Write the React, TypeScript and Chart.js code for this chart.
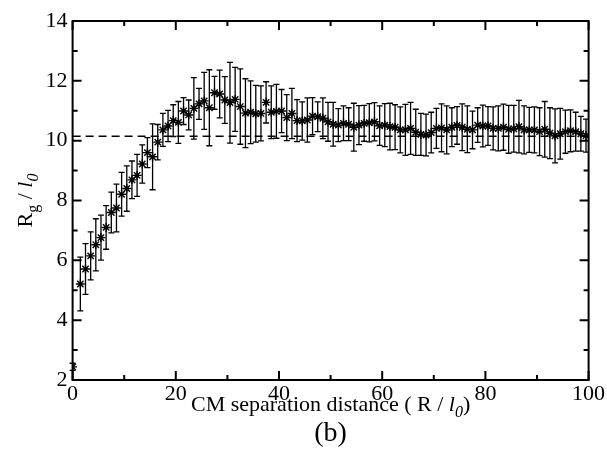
import React, { useEffect, useRef } from "react";
import { Chart, registerables } from "chart.js";

Chart.register(...registerables);

const separation = [
  0, 1.5, 2.5, 3.5, 4.5, 5.5, 6.5, 7.5, 8.5, 9.5,
  10.5, 11.5, 12.5, 13.5, 14.5, 15.5, 16.5, 17.5, 18.5, 19.5,
  20.5, 21.5, 22.5, 23.5, 24.5, 25.5, 26.5, 27.5, 28.5, 29.5,
  30.5, 31.5, 32.5, 33.5, 34.5, 35.5, 36.5, 37.5, 38.5, 39.5,
  40.5, 41.5, 42.5, 43.5, 44.5, 45.5, 46.5, 47.5, 48.5, 49.5,
  50.5, 51.5, 52.5, 53.5, 54.5, 55.5, 56.5, 57.5, 58.5, 59.5,
  60.5, 61.5, 62.5, 63.5, 64.5, 65.5, 66.5, 67.5, 68.5, 69.5,
  70.5, 71.5, 72.5, 73.5, 74.5, 75.5, 76.5, 77.5, 78.5, 79.5,
  80.5, 81.5, 82.5, 83.5, 84.5, 85.5, 86.5, 87.5, 88.5, 89.5,
  90.5, 91.5, 92.5, 93.5, 94.5, 95.5, 96.5, 97.5, 98.5, 99.5,
];

const rg = [
  2.44, 5.21, 5.71, 6.15, 6.52, 6.76, 7.1, 7.6, 7.75, 8.21,
  8.4, 8.69, 8.84, 9.22, 9.6, 9.46, 9.95, 10.36, 10.49, 10.67,
  10.61, 10.99, 10.86, 11.08, 11.23, 11.33, 11.1, 11.6, 11.56, 11.36,
  11.27, 11.38, 11.14, 10.92, 10.95, 10.9, 10.91, 11.28, 10.95, 10.98,
  10.99, 10.77, 10.91, 10.67, 10.66, 10.69, 10.82, 10.8, 10.75, 10.63,
  10.55, 10.52, 10.58, 10.55, 10.45, 10.52, 10.58, 10.6, 10.63, 10.5,
  10.52, 10.47, 10.45, 10.36, 10.36, 10.41, 10.28, 10.21, 10.19, 10.27,
  10.41, 10.43, 10.36, 10.45, 10.51, 10.45, 10.38, 10.36, 10.52, 10.49,
  10.49, 10.41, 10.41, 10.45, 10.38, 10.4, 10.47, 10.36, 10.36, 10.36,
  10.3, 10.38, 10.25, 10.16, 10.23, 10.3, 10.33, 10.3, 10.23, 10.17,
];

const rgError = [
  0.12, 0.9, 0.85, 0.8, 0.87, 0.75, 0.73, 0.68, 0.8, 0.73,
  0.76, 0.63, 0.7, 0.64, 0.5, 1.1, 0.59, 0.55, 0.52, 0.53,
  0.7, 0.45, 0.5, 1.03, 0.52, 0.95, 1.27, 0.55, 0.8, 0.78,
  1.35, 1.07, 1.26, 1.15, 1.05, 0.95, 0.92, 0.69, 0.88, 0.9,
  0.72, 0.77, 0.84, 0.7, 0.64, 0.74, 0.62, 0.5, 0.68, 0.65,
  0.73, 0.55, 0.58, 0.55, 0.8, 0.65, 0.6, 0.64, 0.64, 0.66,
  0.72, 0.78, 0.75, 0.77, 0.85, 0.87, 0.77, 0.7, 0.7, 0.68,
  0.67, 0.8, 0.8, 0.65, 0.63, 0.78, 0.78, 0.63, 0.58, 0.7,
  0.65, 0.72, 0.75, 0.77, 0.8, 0.78, 0.88, 0.8, 0.75, 0.77,
  0.8, 0.93, 0.85, 0.9, 0.85, 0.72, 0.7, 0.65, 0.58, 0.55,
];

const plateau = 10.15;
const xRange = [0, 100];
const yRange = [2, 14];
const xStep = 20;
const yStep = 2;

const SERIF = "'Liberation Serif', 'Times New Roman', serif";

type Seg = { t: string; italic?: boolean; sub?: boolean };

function drawRich(ctx: CanvasRenderingContext2D, segs: Seg[], cx: number, baseY: number, size: number) {
  const fontFor = (s: Seg) => `${s.italic ? "italic " : ""}${s.sub ? Math.round(size * 0.72) : size}px ${SERIF}`;
  let total = 0;
  const widths = segs.map((s) => {
    ctx.font = fontFor(s);
    const w = ctx.measureText(s.t).width;
    total += w;
    return w;
  });
  let x = cx - total / 2;
  ctx.textAlign = "left";
  ctx.textBaseline = "alphabetic";
  segs.forEach((s, i) => {
    ctx.font = fontFor(s);
    ctx.fillText(s.t, x, baseY + (s.sub ? size * 0.28 : 0));
    x += widths[i];
  });
}

const errorBarPlugin = {
  id: "errorBars",
  beforeDatasetsDraw(chart: any) {
    const meta = chart.getDatasetMeta(1);
    const ys = chart.scales.y;
    const ctx = chart.ctx;
    ctx.save();
    ctx.strokeStyle = "#000";
    ctx.lineWidth = 1.3;
    meta.data.forEach((pt: any, i: number) => {
      const top = ys.getPixelForValue(rg[i] + rgError[i]);
      const bot = ys.getPixelForValue(rg[i] - rgError[i]);
      const x = pt.x;
      ctx.beginPath();
      ctx.moveTo(x, top);
      ctx.lineTo(x, bot);
      ctx.moveTo(x - 3, top);
      ctx.lineTo(x + 3, top);
      ctx.moveTo(x - 3, bot);
      ctx.lineTo(x + 3, bot);
      ctx.stroke();
    });
    ctx.restore();
  },
};

const framePlugin = {
  id: "frameTicks",
  afterDraw(chart: any) {
    const { ctx, chartArea: a, scales } = chart;
    ctx.save();
    ctx.strokeStyle = "#000";
    ctx.lineWidth = 2;
    ctx.strokeRect(a.left, a.top, a.right - a.left, a.bottom - a.top);
    ctx.beginPath();
    for (let v = xRange[0]; v <= xRange[1]; v += xStep / 2) {
      const px = scales.x.getPixelForValue(v);
      const len = v % xStep === 0 ? 9 : 5;
      ctx.moveTo(px, a.bottom);
      ctx.lineTo(px, a.bottom - len);
      ctx.moveTo(px, a.top);
      ctx.lineTo(px, a.top + len);
    }
    for (let v = yRange[0]; v <= yRange[1]; v += yStep / 2) {
      const py = scales.y.getPixelForValue(v);
      const len = v % yStep === 0 ? 9 : 5;
      ctx.moveTo(a.left, py);
      ctx.lineTo(a.left + len, py);
      ctx.moveTo(a.right, py);
      ctx.lineTo(a.right - len, py);
    }
    ctx.stroke();

    ctx.fillStyle = "#000";
    const cx = (a.left + a.right) / 2;
    drawRich(
      ctx,
      [{ t: "CM separation distance ( R / " }, { t: "l", italic: true }, { t: "0", italic: true, sub: true }, { t: ")" }],
      cx,
      a.bottom + 31,
      22
    );
    ctx.font = `28px ${SERIF}`;
    ctx.textAlign = "center";
    ctx.textBaseline = "alphabetic";
    ctx.fillText("(b)", cx, a.bottom + 61);

    const cy = (a.top + a.bottom) / 2;
    ctx.save();
    ctx.translate(32, cy);
    ctx.rotate(-Math.PI / 2);
    drawRich(
      ctx,
      [{ t: "R" }, { t: "g", sub: true }, { t: " / " }, { t: "l", italic: true }, { t: "0", italic: true, sub: true }],
      0,
      0,
      22
    );
    ctx.restore();
    ctx.restore();
  },
};

export default function App() {
  const ref = useRef<HTMLCanvasElement | null>(null);
  useEffect(() => {
    if (!ref.current) return;
    const points = separation.map((x, i) => ({ x, y: rg[i] }));
    const chart = new Chart(ref.current, {
      type: "scatter",
      data: {
        datasets: [
          {
            type: "line",
            data: [
              { x: xRange[0], y: plateau },
              { x: xRange[1], y: plateau },
            ],
            borderColor: "#000",
            borderWidth: 1.6,
            borderDash: [8, 5],
            pointRadius: 0,
            fill: false,
          } as any,
          {
            data: points,
            pointStyle: "star",
            pointRadius: 4.5,
            borderWidth: 1.4,
            borderColor: "#000",
            backgroundColor: "#000",
            showLine: false,
          },
        ],
      },
      options: {
        responsive: false,
        animation: false,
        events: [],
        layout: { padding: { top: 21, right: 18.4, left: 0, bottom: 0 } },
        plugins: { legend: { display: false }, tooltip: { enabled: false }, title: { display: false } },
        scales: {
          x: {
            type: "linear",
            min: xRange[0],
            max: xRange[1],
            grid: { display: false, drawTicks: false },
            border: { display: false },
            ticks: {
              stepSize: xStep,
              autoSkip: false,
              maxRotation: 0,
              padding: 1,
              color: "#000",
              font: { family: SERIF, size: 22 },
            },
            afterFit: (s: any) => {
              s.height = 78;
            },
          },
          y: {
            type: "linear",
            min: yRange[0],
            max: yRange[1],
            grid: { display: false, drawTicks: false },
            border: { display: false },
            ticks: {
              stepSize: yStep,
              padding: 5,
              color: "#000",
              font: { family: SERIF, size: 22 },
            },
            afterFit: (s: any) => {
              s.width = 72.6;
            },
          },
        },
      },
      plugins: [errorBarPlugin, framePlugin],
    });
    return () => chart.destroy();
  }, []);
  return (
    <div style={{ position: "fixed", left: 0, top: 0, width: 607, height: 458, background: "#fff" }}>
      <canvas ref={ref} width={607} height={458} />
    </div>
  );
}
